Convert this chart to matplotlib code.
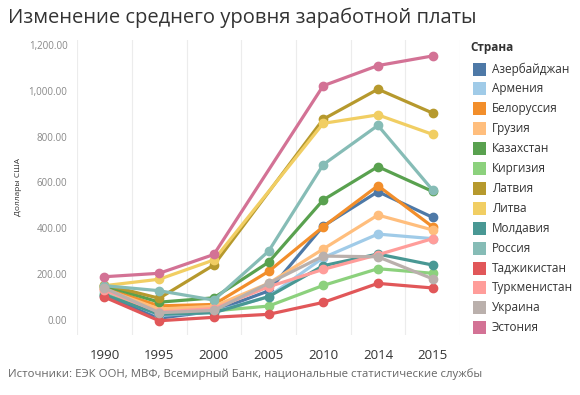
import matplotlib.pyplot as plt
from matplotlib.patches import Rectangle
from matplotlib.ticker import FuncFormatter, MultipleLocator

plt.rcParams['font.family'] = ['Open Sans', 'DejaVu Sans']

years = ['1990', '1995', '2000', '2005', '2010', '2014', '2015']

countries = ['Азербайджан', 'Армения', 'Белоруссия', 'Грузия', 'Казахстан',
             'Киргизия', 'Латвия', 'Литва', 'Молдавия', 'Россия',
             'Таджикистан', 'Туркменистан', 'Украина', 'Эстония']

colors = ['#4E79A7', '#A0CBE8', '#F28E2B', '#FFBE7D', '#59A14F',
          '#8CD17D', '#B6992D', '#F1CE63', '#499894', '#86BCB6',
          '#E15759', '#FF9D9A', '#BAB0AC', '#D37295']

# None = no data for that year (line joins neighbouring points)
azerbaijan = [105, 8, 39, 127, 410, 560, 448]
armenia = [124, 20, 35, 102, 272, 375, 355]
belarus = [140, 62, 68, 212, 407, 586, 407]
georgia = [135, 48, 60, 160, 310, 458, 393]
kazakhstan = [150, 78, 97, 252, 524, 669, 561]
kyrgyzstan = [112, 30, 40, 61, 151, 224, 204]
latvia = [155, 95, 240, None, 876, 1007, 903]
lithuania = [150, 178, 262, None, 858, 895, 810]
moldova = [110, 25, 32, 102, 237, 288, 240]
russia = [150, 128, 87, 300, 678, 849, 567]
tajikistan = [100, -3, 12, 25, 77, 160, 140]
turkmenistan = [130, 35, 50, 145, 221, 285, 355]
ukraine = [140, 32, 42, 160, 279, 276, 180]
estonia = [189, 204, 286, None, 1022, 1110, 1152]

series = [azerbaijan, armenia, belarus, georgia, kazakhstan, kyrgyzstan, latvia,
          lithuania, moldova, russia, tajikistan, turkmenistan, ukraine, estonia]

fig = plt.figure(figsize=(5.8, 3.95), dpi=100)
ax = fig.add_axes([0.133, 0.152, 0.66, 0.747])

for vals, c in zip(series, colors):
    xs = [i for i, v in enumerate(vals) if v is not None]
    ys = [v for v in vals if v is not None]
    ax.plot(xs, ys, color=c, lw=2.3, marker='o', markersize=6, solid_capstyle='round')

ax.set_xlim(-0.5, 6.5)
ax.set_ylim(-65, 1222)
ax.set_xticks(range(len(years)))
ax.set_xticklabels(years)
ax.xaxis.set_minor_locator(MultipleLocator(1, offset=0.5))
ax.grid(axis='x', which='minor', color='#ececec', lw=0.8)
ax.yaxis.set_major_locator(MultipleLocator(200))
ax.yaxis.set_major_formatter(FuncFormatter(lambda v, p: f'{v:,.2f}'))
ax.tick_params(axis='y', labelsize=7, colors='#888888', length=0, pad=7)
ax.tick_params(axis='x', labelsize=9.5, colors='#333333', length=0, pad=10)
ax.tick_params(which='minor', length=0)
for s in ax.spines.values():
    s.set_visible(False)
ax.set_ylabel('Доллары США', fontsize=6, color='#333333')
ax.yaxis.set_label_coords(-0.145, 0.5)

fig.text(0.014, 0.955, 'Изменение среднего уровня заработной платы',
         fontsize=14.5, color='#333333', va='center', ha='left')
fig.text(0.014, 0.053, 'Источники: ЕЭК ООН, МВФ, Всемирный Банк, национальные статистические службы',
         fontsize=8.2, color='#666666', va='center', ha='left')

# legend
W, H = 580, 395
fig.text(470 / W, 1 - 48 / H, 'Страна', fontsize=8.5, color='#333333',
         va='center', ha='left', fontweight='bold')
for i, (name, c) in enumerate(zip(countries, colors)):
    yc = 69 + i * 19.9
    fig.add_artist(Rectangle((473 / W, 1 - (yc + 6.5) / H), 13 / W, 13 / H,
                             transform=fig.transFigure, color=c, lw=0))
    fig.text(492 / W, 1 - yc / H, name, fontsize=8.5, color='#333333',
             va='center', ha='left')

fig.savefig('out.png', dpi=100)
